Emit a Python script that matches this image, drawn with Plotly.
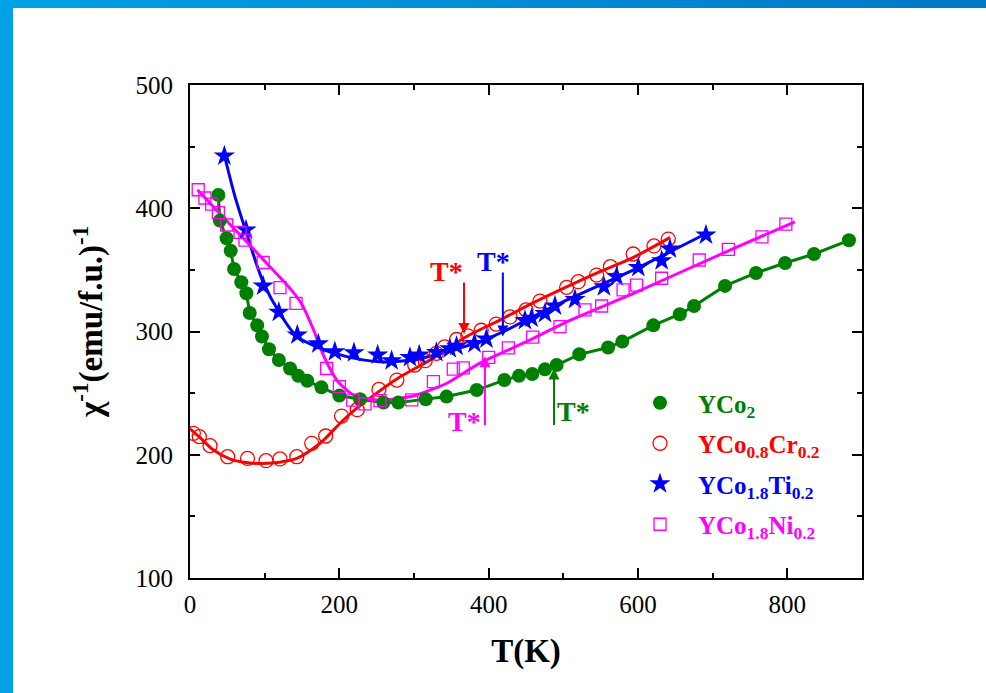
import plotly.graph_objects as go

# ---------------- data ----------------
green_T = [38, 40, 49, 54.5, 59, 68.7, 75.5, 80, 90, 96.4, 105.8, 119, 134, 145, 157, 176, 200,
           227.7, 259, 279, 315.7, 343.6, 384, 421, 440.6, 458.4, 475.4, 491, 521.4, 560, 579,
           620.5, 656, 675, 716.5, 758, 797, 835.7, 882.5]
green_chi = [410.8, 390, 375.6, 365.5, 350.7, 340, 331, 315, 305, 296, 285.6, 276.9, 270, 264, 260,
             254.7, 248, 245, 242.3, 242.3, 245, 247.2, 252.5, 260.6, 264, 265.5, 269.3, 272.8,
             281.5, 287, 291.8, 305, 314, 320.7, 337, 347.5, 355.6, 362.9, 374]

red_T = [4.5, 12.5, 26.8, 50.5, 77, 101.8, 120.5, 143, 163, 181.7, 203, 224, 253, 277, 301, 315,
         330, 341, 357, 372, 390, 410, 428.5, 450, 468.7, 504.4, 520, 544.6, 563, 593.6, 621.4, 640.6]
red_chi = [217.4, 214.7, 207.4, 198.4, 197, 195.2, 196.6, 198.4, 209.3, 215.2, 231.4, 236.6, 253,
           260.6, 272.8, 276.3, 282.3, 287.5, 293.5, 296.5, 301, 306, 311.8, 317.5, 324.7, 335.8,
           340.4, 345.8, 352.6, 362.9, 369.4, 375]
red_fit_T = [0, 15, 31, 54, 80, 98, 120, 143, 165, 180, 205, 228, 250, 281, 326, 370, 415, 460,
             505, 549, 594, 643]
red_fit_chi = [221, 213, 204, 196.5, 193.3, 193, 194, 197, 205, 212.5, 228, 240, 250, 263, 278.4,
               295.8, 309.3, 323.4, 336.4, 348.6, 360.2, 376.4]

blue_T = [46, 75, 98, 119, 143.7, 171.8, 194, 219.6, 251.3, 270, 294.6, 307, 330, 348, 357, 381,
          397, 448.6, 457.6, 475.4, 488.8, 515.6, 554.4, 571.4, 600.4, 631.7, 642.8, 691]
blue_chi = [442.4, 382.4, 337, 315.6, 297.2, 290, 283.6, 282.8, 281, 276.3, 279, 281, 283, 286,
            288, 290.2, 294, 309, 310.7, 314.7, 320.7, 326, 336.4, 344.5, 352, 357.5, 367, 378.3]
blue_fit_T = [46, 60, 75, 98, 120, 143, 174, 210, 254, 299, 344, 388, 420, 455, 505, 594, 692]
blue_fit_chi = [443, 410, 381, 340, 315, 296, 286.4, 279.6, 275.5, 277, 283.6, 291.8, 300, 310.7,
                325.6, 350, 379.7]

mag_T = [11, 20, 29, 38, 49, 67, 73.7, 98, 120.5, 142, 183, 200, 218, 234.4, 254.4, 297, 326,
         352.6, 366, 400, 426.3, 459, 495.5, 529, 551.3, 580, 598, 631.7, 682, 721, 766, 798]
mag_chi = [415, 408.3, 403.4, 396.5, 386.4, 380.5, 374.2, 356, 335.6, 322.9, 270, 255.3, 244.4,
           241.2, 243.9, 244.5, 259.3, 269.4, 270.5, 279, 286.7, 295.5, 304, 317.5, 320.7, 333.7,
           337.7, 343.2, 358, 366.7, 376.7, 387.2]
mag_fit_T = [10, 40, 74, 104, 134, 150, 165, 178.5, 190, 200, 218.7, 254, 299, 344, 388, 455, 505,
             594, 723, 810]
mag_fit_chi = [415, 395.6, 374, 354.6, 335, 322, 302, 281, 267, 258, 248.5, 244, 247.7, 258, 274.3,
               293, 308, 331, 366, 389]

names = ["YCo<sub>2</sub>", "YCo<sub>0.8</sub>Cr<sub>0.2</sub>",
         "YCo<sub>1.8</sub>Ti<sub>0.2</sub>", "YCo<sub>1.8</sub>Ni<sub>0.2</sub>"]
colors = ["#008000", "#FF0000", "#0000FF", "#FF00FF"]

# T* markers: (x, arrow tip, arrow tail, text x, text y)
tstar_x = [487.5, 367, 419, 395]
tstar_tip = [270, 298, 296, 280]
tstar_tail = [223, 341, 349, 223]
tstar_text_x = [513, 344, 407, 368]
tstar_text_y = [235, 349, 357, 227]

xticks = [0, 200, 400, 600, 800]
yticks = [100, 200, 300, 400, 500]

# ---------------- figure ----------------
W, H = 986, 693
ML, MR, MT, MB = 190, 124, 85, 115
PW, PH = W - ML - MR, H - MT - MB
FONT = "Liberation Serif"

fig = go.Figure()

# fit / connecting lines
fig.add_trace(go.Scatter(x=green_T, y=green_chi, mode="lines", line=dict(color=colors[0], width=3),
                         showlegend=False, hoverinfo="skip"))
fig.add_trace(go.Scatter(x=red_fit_T, y=red_fit_chi, mode="lines",
                         line=dict(color=colors[1], width=3, shape="spline", smoothing=0.8),
                         showlegend=False, hoverinfo="skip"))
fig.add_trace(go.Scatter(x=blue_fit_T, y=blue_fit_chi, mode="lines",
                         line=dict(color=colors[2], width=3, shape="spline", smoothing=0.8),
                         showlegend=False, hoverinfo="skip"))
fig.add_trace(go.Scatter(x=mag_fit_T, y=mag_fit_chi, mode="lines",
                         line=dict(color=colors[3], width=3, shape="spline", smoothing=0.5),
                         showlegend=False, hoverinfo="skip"))

def legname(i):
    return f"<span style='color:{colors[i]}'><b>{names[i]}</b></span>"

fig.add_trace(go.Scatter(x=green_T, y=green_chi, mode="markers", name=legname(0), legendgroup="g0",
                         marker=dict(symbol="circle", size=14, color=colors[0], line=dict(width=0))))
fig.add_trace(go.Scatter(x=red_T, y=red_chi, mode="markers", name=legname(1), legendgroup="g1",
                         marker=dict(symbol="circle-open", size=14, color=colors[1], line=dict(width=1.3))))
fig.add_trace(go.Scatter(x=blue_T, y=blue_chi, mode="markers", name=legname(2), legendgroup="g2",
                         marker=dict(symbol="star", size=16, color=colors[2], line=dict(width=0))))
fig.add_trace(go.Scatter(x=mag_T, y=mag_chi, mode="markers", name=legname(3), legendgroup="g3",
                         marker=dict(symbol="square-open", size=12, color=colors[3], line=dict(width=1.3))))

def pxx(px):
    return (px - ML) / PW

def pxy(py):
    return (H - MB - py) / PH

annotations = []
for i in range(4):
    annotations.append(dict(x=tstar_x[i], y=tstar_tip[i], ax=tstar_x[i], ay=tstar_tail[i],
                            xref="x", yref="y", axref="x", ayref="y", text="", showarrow=True,
                            arrowhead=2, arrowsize=1.1, arrowwidth=2, arrowcolor=colors[i], standoff=0))
    annotations.append(dict(x=tstar_text_x[i], y=tstar_text_y[i], xref="x", yref="y", text="<b>T*</b>",
                            showarrow=False, font=dict(family=FONT, size=28, color=colors[i])))

# y-axis title (placed as rotated text to match the reference position)
annotations.append(dict(x=pxx(88), y=pxy(322), xref="paper", yref="paper", textangle=-90,
                        xanchor="center", yanchor="middle", showarrow=False,
                        text="<b>χ<sup>-1</sup>(emu/f.u.)<sup>-1</sup></b>",
                        font=dict(family=FONT, size=33, color="black")))

# decorative slide frame (blue bars at top and left)
shapes = []
nseg = 40
c0 = (0, 160, 228)
c1 = (0, 120, 200)
for k in range(nseg):
    t = k / (nseg - 1)
    c = tuple(int(round(c0[j] + (c1[j] - c0[j]) * t)) for j in range(3))
    shapes.append(dict(type="rect", xref="paper", yref="paper",
                       x0=pxx(W * k / nseg), x1=pxx(W * (k + 1) / nseg + 1),
                       y0=pxy(8), y1=pxy(0), fillcolor=f"rgb{c}", line=dict(width=0), layer="above"))
shapes.append(dict(type="rect", xref="paper", yref="paper", x0=pxx(0), x1=pxx(13),
                   y0=pxy(H), y1=pxy(0), fillcolor="rgb(0,162,230)", line=dict(width=0), layer="above"))

axis_common = dict(showgrid=False, zeroline=False, showline=True, linecolor="black", linewidth=2,
                   mirror="ticks", ticks="inside", ticklen=10, tickwidth=2, tickcolor="black",
                   tickfont=dict(family=FONT, size=25, color="black"))

fig.update_layout(
    width=W, height=H,
    margin=dict(l=ML, r=MR, t=MT, b=MB, autoexpand=False),
    paper_bgcolor="white", plot_bgcolor="white",
    font=dict(family=FONT, color="black"),
    xaxis=dict(range=[0, 900], tickvals=xticks, ticklabelstandoff=3,
               minor=dict(dtick=100, tick0=0, ticks="inside", ticklen=5, tickwidth=2, tickcolor="black"),
               title=dict(text="<b>T(K)</b>", font=dict(family=FONT, size=33), standoff=22),
               **axis_common),
    yaxis=dict(range=[100, 500], tickvals=yticks, ticklabelstandoff=10,
               minor=dict(dtick=50, tick0=0, ticks="inside", ticklen=5, tickwidth=2, tickcolor="black"),
               **axis_common),
    legend=dict(x=pxx(622), y=pxy(380), xanchor="left", yanchor="top", bgcolor="rgba(0,0,0,0)",
                font=dict(family=FONT, size=25), itemwidth=66, tracegroupgap=5, borderwidth=0),
    annotations=annotations,
    shapes=shapes,
)

fig.write_html("out.html")
